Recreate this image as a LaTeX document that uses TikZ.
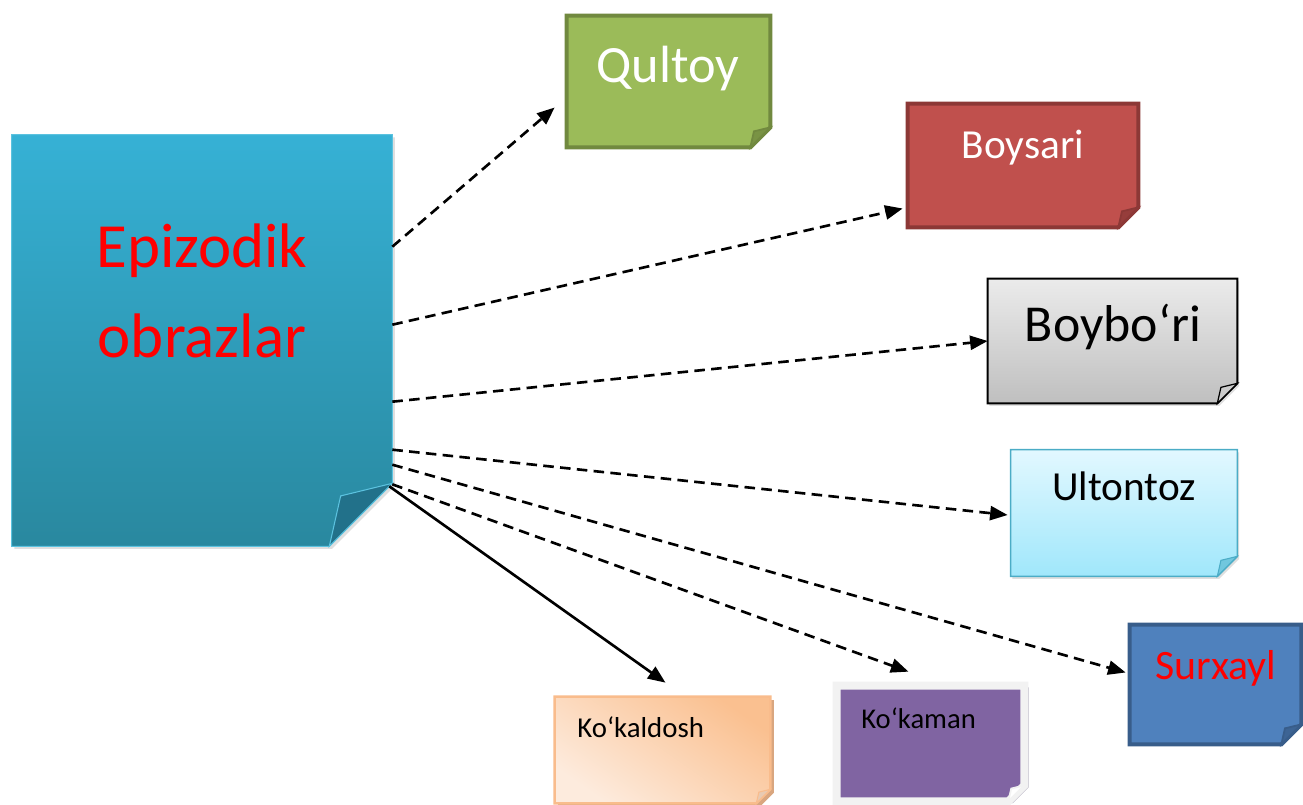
\documentclass[tikz,border=0pt]{standalone}
\usepackage{fontspec}
\setmainfont{Carlito}
\usetikzlibrary{calc,arrows.meta,shadows}

\definecolor{epiTop}{HTML}{36B1D5}
\definecolor{epiBot}{HTML}{29889F}
\definecolor{epiEar}{HTML}{22718A}
\definecolor{epiEdge}{HTML}{5BC2DF}
\definecolor{qulFill}{HTML}{9BBB59}
\definecolor{qulEdge}{HTML}{71893F}
\definecolor{bsFill}{HTML}{C0504D}
\definecolor{bsEdge}{HTML}{8C3836}
\definecolor{bbTop}{HTML}{EBEBEB}
\definecolor{bbBot}{HTML}{BFBFBF}
\definecolor{ulTop}{HTML}{E2F8FF}
\definecolor{ulBot}{HTML}{A0E7FB}
\definecolor{ulEdge}{HTML}{4BACC6}
\definecolor{sxFill}{HTML}{4F81BD}
\definecolor{sxEdge}{HTML}{385D8A}
\definecolor{kdDark}{HTML}{FAC090}
\definecolor{kdLight}{HTML}{FDEBDD}
\definecolor{kdEdge}{HTML}{F9BC8C}
\definecolor{kdShadow}{HTML}{D9A67F}
\definecolor{kmFill}{HTML}{8064A2}
\definecolor{kmFrame}{HTML}{F2F2F2}
\definecolor{kmShadow}{HTML}{A7A2B4}

\tikzset{
  note/.style={rectangle,inner sep=0pt},
  epiLook/.style={top color=epiTop,bottom color=epiBot,draw=epiEdge,line width=0.6pt,
    drop shadow={shadow xshift=1.5pt,shadow yshift=-1.5pt,opacity=0.25}},
  epiEar/.style={fill=epiEar,draw=epiEdge,line width=0.6pt},
  qulLook/.style={fill=qulFill,draw=qulEdge,line width=2.3pt},
  qulEar/.style={fill=qulEdge!80!qulFill,draw=qulEdge,line width=1pt},
  bsLook/.style={fill=bsFill,draw=bsEdge,line width=2.3pt},
  bsEar/.style={fill=bsEdge!80!bsFill,draw=bsEdge,line width=1pt},
  bbLook/.style={top color=bbTop,bottom color=bbBot,draw=black,line width=1.1pt,
    drop shadow={shadow xshift=1pt,shadow yshift=-1.5pt,opacity=0.25}},
  bbEar/.style={fill=bbBot!80!white,draw=black,line width=0.7pt},
  ulLook/.style={top color=ulTop,bottom color=ulBot,draw=ulEdge,line width=0.9pt,
    drop shadow={shadow xshift=1pt,shadow yshift=-1.5pt,opacity=0.25}},
  ulEar/.style={fill=ulEdge!55!ulBot,draw=ulEdge,line width=0.6pt},
  sxLook/.style={fill=sxFill,draw=sxEdge,line width=2.3pt},
  sxEar/.style={fill=sxEdge!80!sxFill,draw=sxEdge,line width=1pt},
  kdLook/.style={shading=axis,top color=kdDark,bottom color=kdLight,shading angle=-35,
    draw=kdEdge,line width=1.4pt,
    drop shadow={shadow xshift=2pt,shadow yshift=-2pt,fill=kdShadow,opacity=1}},
  kdEar/.style={fill=kdShadow!60!white,draw=kdEdge,line width=0.6pt},
  kmLook/.style={fill=kmFill,draw=kmFrame,line width=4.5pt,
    drop shadow={shadow xshift=2.5pt,shadow yshift=-1pt,fill=kmShadow,opacity=1}},
  kmEar/.style={fill=white,draw=kmFrame,line width=1pt},
  link/.style={line width=1.5pt,dash pattern=on 6pt off 3.6pt,
    -{Triangle[length=10pt,width=8pt]}},
  plainlink/.style={line width=1.5pt,-{Triangle[length=10pt,width=8pt]}}
}

\begin{document}
\begin{tikzpicture}[x=0.02cm,y=-0.02cm]
    \useasboundingbox (0,0) rectangle (1303,805);

    % the boxes (no text, only the frame)
    \node[note,minimum width=7.6cm,minimum height=8.22cm] (epi) at (202,340.5) {};
    \node[note,minimum width=4.06cm,minimum height=2.62cm] (qultoy) at (668.5,81.5) {};
    \node[note,minimum width=4.6cm,minimum height=2.46cm] (boysari) at (1023,165.5) {};
    \node[note,minimum width=4.98cm,minimum height=2.48cm] (boybori) at (1112.5,341) {};
    \node[note,minimum width=4.52cm,minimum height=2.52cm] (ultontoz) at (1124,513) {};
    \node[note,minimum width=3.42cm,minimum height=2.38cm] (surxayl) at (1215.5,684.5) {};
    \node[note,minimum width=4.3cm,minimum height=2.12cm] (kokaldosh) at (662.5,750) {};
    \node[note,minimum width=3.74cm,minimum height=2.3cm] (kokaman) at (930.5,743.5) {};

    % paper with a turned corner
    \foreach \nm/\c/\look/\ear in {epi/63/epiLook/epiEar,qultoy/20/qulLook/qulEar,
        boysari/20/bsLook/bsEar,boybori/20/bbLook/bbEar,ultontoz/20/ulLook/ulEar,
        surxayl/20/sxLook/sxEar,kokaldosh/14/kdLook/kdEar,kokaman/16/kmLook/kmEar}
    {
      \path[\look] (\nm.north west) -- (\nm.north east) -- ($(\nm.south east)+(0,-\c)$)
        -- ($(\nm.south east)+(-\c,0)$) -- (\nm.south west) -- cycle;
      \path[\ear] ($(\nm.south east)+(0,-\c)$) -- ($(\nm.south east)+(-0.82*\c,-0.8*\c)$)
        -- ($(\nm.south east)+(-\c,0)$) -- cycle;
    }

    % labels
    \node[anchor=base,text=red,align=center,font=\fontsize{35.8}{51}\selectfont] (epi text) at (202,357) {Epizodik\\obrazlar};
    \node[anchor=base,text=white,font=\fontsize{29.8}{36}\selectfont] (qultoy text) at (668,82) {Qultoy};
    \node[anchor=base,text=white,font=\fontsize{23.5}{28}\selectfont] (boysari text) at (1023,158) {Boysari};
    \node[anchor=base,font=\fontsize{29.5}{36}\selectfont] (boybori text) at (1113,341) {Boybo‘ri};
    \node[anchor=base,font=\fontsize{23.5}{28}\selectfont] (ultontoz text) at (1124,500) {Ultontoz};
    \node[anchor=base,text=red,font=\fontsize{23.8}{28}\selectfont] (surxayl text) at (1216,679) {Surxayl};
    \node[anchor=base west,inner sep=0pt,font=\fontsize{16.4}{20}\selectfont] (kokaldosh text) at (577,737) {Ko‘kaldosh};
    \node[anchor=base west,inner sep=0pt,font=\fontsize{16.3}{20}\selectfont] (kokaman text) at (861,728) {Ko‘kaman};

    % the connectors
    \draw[link] ($(epi.north east)+(0,112)$) -- ($(qultoy.west)+(-12,26)$);
    \draw[link] ($(epi.north east)+(0,190)$) -- ($(boysari.west)+(-5,43)$);
    \draw[link] ($(epi.north east)+(0,267)$) -- (boybori.west);
    \draw[link] ($(epi.north east)+(0,315)$) -- ($(ultontoz.west)+(-3,2)$);
    \draw[link] ($(epi.north east)+(0,330)$) -- ($(surxayl.west)+(-4,-12)$);
    \draw[link] ($(epi.south east)+(0,-62)$) -- ($(kokaman.north)+(-22,-14)$);
    \draw[plainlink] ($(epi.south east)+(-3,-60)$) -- ($(kokaldosh.north)+(3,-14)$);
\end{tikzpicture}
\end{document}
